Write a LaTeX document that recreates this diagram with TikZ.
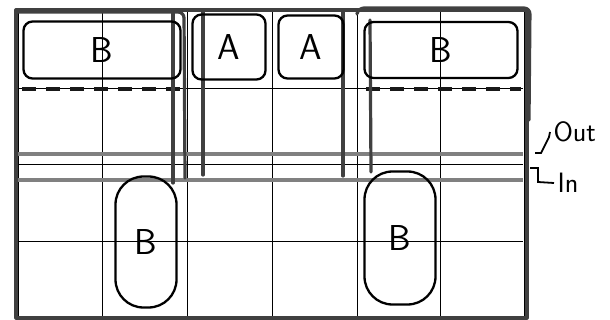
\documentclass[tikz,border=0pt]{standalone}
\usepackage{tikz}

\begin{document}
\begin{tikzpicture}[x=1pt,y=-1pt,
	cell/.style={black,line width=0.9pt},
	sketch/.style={black!75,line width=3.2pt,line cap=round,line join=round},
	wire/.style={black!50,line width=4pt},
	cut/.style={black!90,line width=3.2pt,dash pattern=on 14pt off 10pt},
	pad/.style={draw,line width=2.3pt,rounded corners=9pt,inner sep=0pt,font=\sffamily\fontsize{36}{40}\selectfont},
	tag/.style={font=\sffamily\fontsize{28}{32}\selectfont,anchor=west}]
			\useasboundingbox (0,0) rectangle (610,320);
			\foreach \x in {102,187,272,357,440} \draw[cell] (\x,11) -- (\x,317);
			\foreach \y in {88,164,241} \draw[cell] (18,\y) -- (523,\y);
			\draw[cell] (18,11) rectangle (524,317);
			\draw[wire] (18,154) -- (523,154);
			\draw[wire] (18,180) -- (523,180);
			\draw[cut] (22,89) -- (183,89);
			\draw[cut] (366,89) -- (521,89);
			\draw[sketch] (16,10) rectangle (527,318);
			\draw[sketch,rounded corners=6pt] (16,12) -- (184,12) -- (185,178);
			\draw[sketch] (173,12) -- (173,183);
			\draw[sketch] (203,12) -- (203,175);
			\draw[sketch] (343,12) -- (343,176);
			\draw[sketch] (370,20) -- (371,172);
			\draw[sketch,rounded corners=6pt] (357,14) -- (358,8) -- (530,8) -- (529,120);
			\node[pad,minimum width=157pt,minimum height=57pt] (bl) at (102,50) {B};
			\node[pad,minimum width=73pt,minimum height=65pt] (al) at (229,47) {A};
			\node[pad,minimum width=65pt,minimum height=63pt] (ar) at (311,47) {A};
			\node[pad,minimum width=153pt,minimum height=56pt] (br) at (441,50) {B};
			\node[pad,rounded corners=28pt,minimum width=61pt,minimum height=131pt] (bd) at (146,242) {B};
			\node[pad,rounded corners=28pt,minimum width=71pt,minimum height=133pt] (be) at (400,238) {B};
			\node[tag] (out) at (550,132) {Out};
			\node[tag] (in) at (554,183) {In};
			\coordinate (o) at (535,153);
			\coordinate (i) at (530,168);
			\draw[line width=1.8pt] (o) -- ++(6,0) -- ++(8,-16) -- (out.west);
			\draw[line width=1.8pt] (i) -- ++(8,0) -- ++(0,14) -- (in.west);
		\end{tikzpicture}
\end{document}
